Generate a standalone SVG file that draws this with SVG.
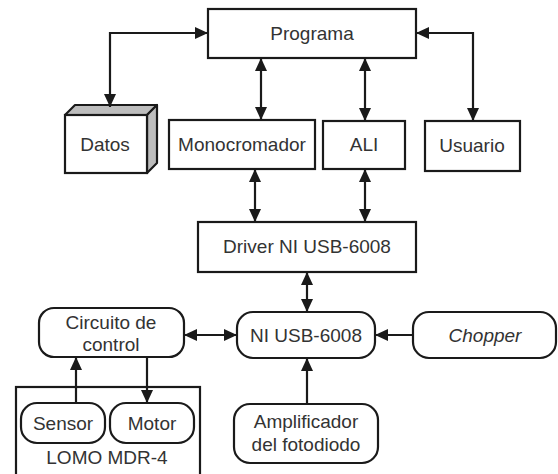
<svg xmlns="http://www.w3.org/2000/svg" width="558" height="474" viewBox="0 0 558 474">
<defs>
<marker id="ah" viewBox="0 0 13 12" refX="13" refY="6" markerWidth="13" markerHeight="12" markerUnits="userSpaceOnUse" orient="auto-start-reverse">
<path d="M0,0 L13,6 L0,12 Z" fill="#1a1a1a"/>
</marker>
<style>
.box{fill:#fff;stroke:#1a1a1a;stroke-width:2.2}
.t{font-family:"Liberation Sans",Arial,sans-serif;font-size:19px;fill:#333;text-anchor:middle}
.c{fill:none;stroke:#1a1a1a;stroke-width:2.2}
</style>
</defs>
<rect width="558" height="474" fill="#fff"/>
<g id="lomo"><rect class="box" x="16" y="387" width="184" height="100"/><text class="t" x="107" y="464">LOMO MDR-4</text></g>
<g id="programa"><rect class="box" x="208" y="9" width="208" height="49"/><text class="t" x="312" y="40">Programa</text></g>
<g id="datos">
<path d="M65,115 L75,105 L157,105 L147,115 Z" fill="#bdbdbd" stroke="#1a1a1a" stroke-width="2.2" stroke-linejoin="round"/>
<path d="M147,115 L157,105 L157,163 L147,173 Z" fill="#bdbdbd" stroke="#1a1a1a" stroke-width="2.2" stroke-linejoin="round"/>
<rect class="box" x="65" y="115" width="82" height="58"/><text class="t" x="105" y="151">Datos</text></g>
<g id="monocromador"><rect class="box" x="169" y="120" width="146" height="49"/><text class="t" x="242" y="151">Monocromador</text></g>
<g id="ali"><rect class="box" x="323" y="121" width="82" height="48"/><text class="t" x="364" y="151">ALI</text></g>
<g id="usuario"><rect class="box" x="425" y="121" width="95" height="50"/><text class="t" x="472" y="152">Usuario</text></g>
<g id="driver"><rect class="box" x="198" y="222" width="218" height="50"/><text class="t" x="307" y="253">Driver NI USB-6008</text></g>
<g id="ni"><rect class="box" x="237" y="312" width="138" height="46" rx="16"/><text class="t" x="306" y="342">NI USB-6008</text></g>
<g id="chopper"><rect class="box" x="413" y="312" width="143" height="46" rx="16"/><text class="t" x="485" y="342" font-style="italic">Chopper</text></g>
<g id="circuito"><rect class="box" x="39" y="308" width="145" height="49" rx="15"/><text class="t" x="111" y="329">Circuito de</text><text class="t" x="111" y="351">control</text></g>
<g id="amplificador"><rect class="box" x="234" y="404" width="144" height="59" rx="16"/><text class="t" x="306" y="428">Amplificador</text><text class="t" x="306" y="451">del fotodiodo</text></g>
<g id="sensor"><rect class="box" x="21" y="403" width="84" height="40" rx="16"/><text class="t" x="63" y="430">Sensor</text></g>
<g id="motor"><rect class="box" x="110" y="403" width="84" height="40" rx="16"/><text class="t" x="152" y="430">Motor</text></g>
<g id="connectors">
<path class="c" d="M208,33 L110,33 L110,107" marker-start="url(#ah)" marker-end="url(#ah)"/>
<path class="c" d="M261,58 L261,120" marker-start="url(#ah)" marker-end="url(#ah)"/>
<path class="c" d="M365,58 L365,121" marker-start="url(#ah)" marker-end="url(#ah)"/>
<path class="c" d="M416,33 L473,33 L473,121" marker-start="url(#ah)" marker-end="url(#ah)"/>
<path class="c" d="M255,169 L255,222" marker-start="url(#ah)" marker-end="url(#ah)"/>
<path class="c" d="M365,169 L365,222" marker-start="url(#ah)" marker-end="url(#ah)"/>
<path class="c" d="M307,272 L307,312" marker-start="url(#ah)" marker-end="url(#ah)"/>
<path class="c" d="M184,335 L237,335" marker-start="url(#ah)" marker-end="url(#ah)"/>
<path class="c" d="M413,335 L375,335" marker-end="url(#ah)"/>
<path class="c" d="M307,404 L307,358" marker-end="url(#ah)"/>
<path class="c" d="M76,403 L76,357" marker-end="url(#ah)"/>
<path class="c" d="M147,357 L147,403" marker-end="url(#ah)"/>
</g>
</svg>
